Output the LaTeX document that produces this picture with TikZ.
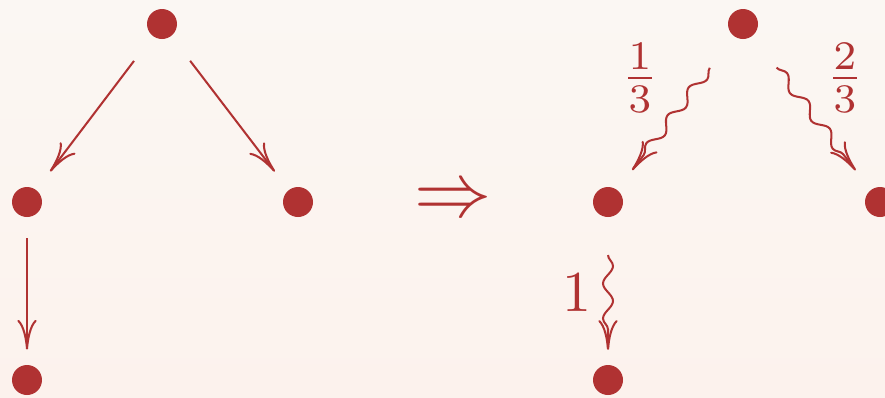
\documentclass[tikz,border=0pt]{standalone}
\usepackage{tikz}
\usetikzlibrary{arrows.meta,decorations.pathmorphing,calc}
\definecolor{dotred}{RGB}{176,50,50}
\definecolor{bgtop}{RGB}{251,247,243}
\definecolor{bgbot}{RGB}{252,242,237}

\begin{document}
\begin{tikzpicture}[x=0.02cm, y=-0.02cm,
    vertex/.style={circle, fill=dotred, minimum size=0.6cm, inner sep=0pt},
    edge/.style={-{Computer Modern Rightarrow[length=17pt,width=11pt]},
                 line width=1.15pt, dotred},
    wavy/.style={edge, decorate, decoration={snake, amplitude=0.1cm,
                 segment length=0.7cm, post length=0.35cm}},
    weight/.style={text=dotred, inner sep=0pt, scale=3.3}]

    % Background
    \clip (0,0) rectangle (885,397);
    \shade[top color=bgtop, bottom color=bgbot] (0,0) rectangle (885,397);

    % Tree before
    \node[vertex] (a) at (162,24) {};
    \node[vertex] (b) at (27,202) {};
    \node[vertex] (c) at (298,202) {};
    \node[vertex] (d) at (27,380) {};

    \draw[edge, shorten <=0.62cm, shorten >=0.46cm] (a) -- (b);
    \draw[edge, shorten <=0.62cm, shorten >=0.46cm] (a) -- (c);
    \draw[edge, shorten <=0.42cm, shorten >=0.3cm] (b) -- (d);

    % Implies
    \node[text=dotred, inner sep=0pt, scale=4.4] (imp) at (453,202) {$\Rightarrow$};

    % Tree after
    \node[vertex] (a2) at (743,24) {};
    \node[vertex] (b2) at (608,202) {};
    \node[vertex] (c2) at (880,202) {};
    \node[vertex] (d2) at (608,380) {};

    \draw[wavy] ($(a2)!0.246!(b2)$) -- ($(a2)!0.821!(b2)$);
    \draw[wavy] ($(a2)!0.245!(c2)$) -- ($(a2)!0.822!(c2)$);
    \draw[wavy] ($(b2)!0.298!(d2)$) -- ($(b2)!0.831!(d2)$);

    % Weights
    \node[weight] (w1) at (640,78) {$\frac{1}{3}$};
    \node[weight] (w2) at (845,78) {$\frac{2}{3}$};
    \node[weight] (w3) at (577,293) {$1$};
\end{tikzpicture}
\end{document}
